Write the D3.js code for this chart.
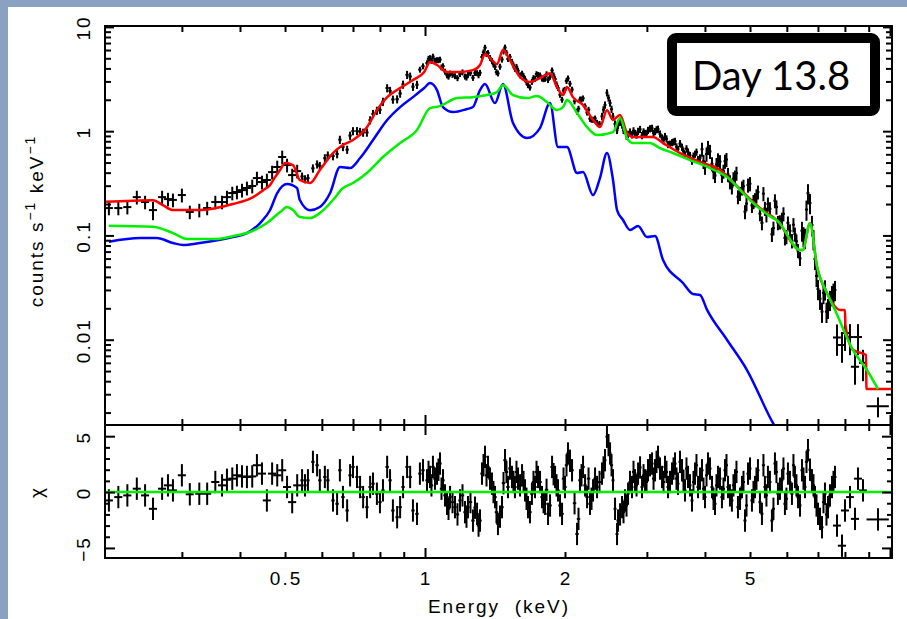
<!DOCTYPE html>
<html>
<head>
<meta charset="utf-8">
<script src="https://cdn.jsdelivr.net/npm/d3@7"></script>
<style>
  body { margin: 0; background: #fff; }
  svg { display: block; }
</style>
</head>
<body>
<script>
// ---- spectrum data (keV, counts s^-1 keV^-1, chi) ----
const dataE = [
  0.209,0.219,0.229,0.240,0.250,0.260,0.272,0.280,0.287,0.300,0.312,0.327,0.340,0.354,0.366,0.375,0.385,0.394,0.404,0.414,0.425,0.435,0.446,0.457,0.469,0.481,0.493,0.505,0.518,0.531,
  0.544,0.552,0.560,0.574,0.586,0.594,0.609,0.618,0.634,0.647,0.656,0.666,0.680,0.690,0.700,0.714,0.725,0.736,0.750,0.762,0.773,0.788,0.800,0.812,0.829,0.841,0.853,0.871,0.884,0.897,0.915,0.929,0.942,0.961,0.975,0.990,
  1.010,1.025,1.040,1.061,1.077,1.093,1.115,1.132,1.160,1.189,1.219,1.237,1.268,1.294,1.313,1.326,1.346,1.366,1.393,1.414,1.435,1.464,1.486,1.508,1.538,1.561,1.585,1.617,1.641,1.665,1.698,1.724,1.750,1.785,1.812,1.839,1.876,1.904,1.932,1.971,2.000,2.030,2.071,2.123,2.154,2.187,2.231,2.264,2.298,2.344,
  2.402,2.438,2.462,2.500,2.537,2.588,2.601,2.653,2.692,2.733,2.787,2.829,2.872,2.929,2.973,3.017,3.078,3.124,3.170,3.234,3.282,3.331,3.398,3.449,3.500,3.570,3.623,3.678,3.751,3.807,3.864,
  3.942,4.001,4.061,4.142,4.204,4.266,4.351,4.417,4.483,4.571,4.641,4.710,4.805,4.877,4.950,5.048,5.124,5.200,5.304,5.383,5.464,5.573,5.657,5.741,5.856,5.944,6.033,6.154,6.245,6.340,
  6.467,6.564,6.662,6.795,6.898,7.001,7.141,7.247,7.356,7.503,7.615,
  7.691,7.884,8.003,8.204,8.409,8.535,8.748,9.423
];
// half bin widths (keV)
const dataW = [
  0.0042,0.0044,0.0046,0.0048,0.0050,0.0052,0.0054,0.0056,0.0057,0.0060,0.0062,0.0065,0.0068,0.0071,0.0073,0.0075,0.0077,0.0079,0.0081,0.0083,0.0085,0.0087,0.0089,0.0091,0.0094,0.0096,0.0099,0.0101,0.0104,0.0106,
  0.0046,0.0046,0.0047,0.0048,0.0049,0.0050,0.0051,0.0052,0.0053,0.0054,0.0055,0.0056,0.0057,0.0058,0.0059,0.0060,0.0061,0.0062,0.0063,0.0064,0.0065,0.0066,0.0067,0.0068,0.0070,0.0071,0.0072,0.0073,0.0074,0.0075,0.0077,0.0078,0.0079,0.0081,0.0082,0.0083,
  0.0085,0.0086,0.0087,0.0089,0.0090,0.0092,0.0094,0.0095,0.0097,0.0100,0.0102,0.0104,0.0107,0.0109,0.0110,0.0111,0.0113,0.0115,0.0117,0.0119,0.0121,0.0123,0.0125,0.0127,0.0129,0.0131,0.0133,0.0136,0.0138,0.0140,0.0143,0.0145,0.0147,0.0150,0.0152,0.0154,0.0158,0.0160,0.0162,0.0166,0.0168,0.0171,0.0174,0.0178,0.0181,0.0184,0.0187,0.0190,0.0193,0.0197,
  0.018,0.018,0.018,0.019,0.019,0.019,0.020,0.020,0.020,0.020,0.021,0.021,0.022,0.022,0.022,0.023,0.023,0.023,0.024,0.024,0.025,0.025,0.025,0.026,0.026,0.027,0.027,0.028,0.028,0.029,0.029,
  0.030,0.030,0.030,0.031,0.032,0.032,0.033,0.033,0.034,0.034,0.035,0.035,0.036,0.037,0.037,0.038,0.038,0.039,0.040,0.040,0.041,0.042,0.042,0.043,0.044,0.045,0.045,0.046,0.047,0.048,
  0.049,0.049,0.050,0.051,0.052,0.053,0.054,0.054,0.055,0.056,0.057,
  0.15,0.16,0.16,0.16,0.17,0.17,0.17,0.52
];
const dataRate = [
  0.183,0.183,0.187,0.233,0.209,0.175,0.233,0.223,0.219,0.244,0.168,0.175,0.183,0.209,0.209,0.233,0.255,0.261,0.272,0.285,0.298,0.355,0.325,0.340,0.405,0.453,0.565,0.473,0.379,0.414,
  0.368,0.347,0.354,0.440,0.481,0.465,0.551,0.586,0.577,0.603,0.829,0.707,0.665,0.907,1.002,1.004,0.987,0.970,0.972,1.275,1.465,1.573,1.604,1.918,2.589,2.44,2.013,2.027,2.299,2.803,3.473,3.345,2.671,2.791,3.896,4.193,
  4.487,5.022,5.192,4.806,4.859,4.202,3.436,3.575,3.376,3.535,3.345,3.473,3.251,3.606,3.631,5.145,6.318,5.62,4.721,4.137,3.583,4.869,6.346,4.934,4.628,3.966,3.802,3.567,3.159,2.767,2.976,3.18,3.466,3.201,3.18,3.097,3.828,3.159,2.595,2.005,2.494,3.208,2.505,1.542,2.013,2.063,1.511,1.315,1.289,1.204,
  1.387,1.783,2.334,1.864,1.387,1.020,1.137,1.149,1.013,0.934,0.924,0.953,0.998,0.909,0.953,1.020,1.068,0.993,1.047,0.864,0.891,0.747,0.777,0.800,0.671,0.703,0.593,0.632,0.517,0.603,0.534,
  0.671,0.451,0.698,0.487,0.376,0.531,0.378,0.515,0.384,0.292,0.363,0.235,0.285,0.169,0.304,0.194,0.220,0.261,0.132,0.182,0.200,0.1025,0.215,0.133,0.143,0.0948,0.132,0.089,0.103,0.0716,
  0.111,0.0948,0.254,0.126,0.0595,0.0306,0.0186,0.0304,0.0202,0.0268,0.030,
  0.0105,0.0089,0.0116,0.0106,0.0055,0.0106,0.0060,0.0023
];
const dataErr = [
  0.027,0.027,0.028,0.035,0.031,0.035,0.035,0.033,0.033,0.037,0.025,0.026,0.027,0.031,0.031,0.035,0.038,0.039,0.041,0.043,0.045,0.053,0.049,0.051,0.061,0.068,0.085,0.071,0.057,0.062,
  0.033,0.031,0.032,0.040,0.043,0.042,0.050,0.053,0.052,0.054,0.075,0.064,0.060,0.082,0.090,0.090,0.089,0.087,0.087,0.115,0.132,0.142,0.144,0.173,0.233,0.22,0.181,0.182,0.207,0.252,0.313,0.301,0.240,0.251,0.257,0.277,
  0.296,0.331,0.343,0.317,0.321,0.277,0.227,0.236,0.223,0.233,0.221,0.229,0.215,0.238,0.240,0.340,0.417,0.371,0.312,0.273,0.236,0.321,0.419,0.326,0.305,0.262,0.251,0.235,0.208,0.183,0.196,0.210,0.229,0.211,0.210,0.204,0.253,0.208,0.171,0.132,0.165,0.212,0.165,0.102,0.133,0.136,0.100,0.087,0.085,0.079,
  0.111,0.143,0.187,0.149,0.111,0.082,0.091,0.092,0.081,0.075,0.074,0.076,0.080,0.073,0.076,0.082,0.085,0.079,0.084,0.069,0.071,0.060,0.062,0.064,0.054,0.056,0.047,0.051,0.041,0.048,0.043,
  0.104,0.070,0.108,0.075,0.058,0.082,0.059,0.080,0.060,0.045,0.056,0.036,0.044,0.026,0.047,0.030,0.034,0.040,0.020,0.028,0.031,0.016,0.033,0.021,0.022,0.0147,0.020,0.014,0.016,0.011,
  0.024,0.021,0.056,0.028,0.013,0.0067,0.0041,0.0067,0.0044,0.0059,0.0066,
  0.0035,0.0029,0.0038,0.0035,0.0018,0.0035,0.0020,0.0005
];
const dataChi = [
  -0.75,-0.45,-0.3,0.3,-0.3,-1.5,0.3,0.6,0.15,1.5,-0.2,-0.15,-0.15,0.9,0.6,1.1,1.2,1.5,1.4,1.35,1.4,2.4,1.65,-0.75,1.65,1.5,1.95,0.45,-0.9,0.6,
  1.05,0.6,1.05,2.7,2.4,1.05,1.35,1.05,-0.75,-1.05,1.95,-0.45,-1.65,1.5,2.25,1.35,0.45,-0.45,-1.35,0.45,0.75,-0.15,-0.9,0.15,2.25,1.05,-1.65,-2.25,-1.35,0.45,2.25,1.35,-1.65,-1.95,1.65,1.95,
  1.05,1.35,2.25,1.65,2.55,1.05,-1.05,-0.45,-1.35,-0.75,-1.8,-1.35,-2.55,-1.95,-2.55,1.65,3.15,2.25,0.75,-0.45,-2.85,-1.35,2.85,0.45,1.35,0.45,1.2,1.5,0.15,-1.35,-0.15,0.45,1.35,-0.45,-1.05,-1.95,2.25,1.35,0.15,-1.95,0.45,3.45,1.95,-3.75,1.05,2.25,-0.45,-1.05,0.15,0.45,
  1.65,2.85,4.95,3.45,1.05,-3.75,-2.55,-1.35,-0.75,-0.15,0.45,1.05,1.65,0.45,1.05,1.95,2.55,1.95,3.15,1.35,2.25,0.45,1.65,2.55,0.75,1.95,0.15,1.35,-0.75,1.65,0.45,
  1.95,-0.45,2.55,0.45,-1.05,1.35,-0.45,1.95,0.45,-0.75,1.05,-1.35,0.45,-2.55,1.65,-0.75,0.45,1.95,-1.95,0.45,1.35,-2.55,2.55,-0.15,1.05,-1.05,1.65,-0.15,1.35,-0.45,
  1.95,0.45,3.75,1.05,-0.45,-1.95,-3.15,-0.15,-1.35,0.45,1.35,
  -3.0,-4.8,-1.65,-0.45,-2.4,1.2,0.15,-2.45
];

// extra narrow bins lying between the ones above (1 - 7.6 keV)
const fineE = [
  1.0175,1.0325,1.0505,1.069,1.085,1.104,1.1235,1.146,1.1745,1.204,1.228,1.2525,1.281,1.3035,1.336,1.356,1.3795,1.4035,1.4245,1.4495,1.475,1.497,1.523,1.5495,1.573,1.601,1.629,1.653,1.6815,1.711,1.737,1.7675,1.7985,1.8255,1.8575,1.89,1.918,1.9515,1.9855,2.015,2.0505,2.097,2.1385,2.1705,2.209,2.2475,2.281,2.321,2.373,
  2.42,2.481,2.5185,2.5625,2.627,2.6725,2.7125,2.76,2.808,2.8505,2.9005,2.951,2.995,3.0475,3.101,3.147,3.202,3.258,3.3065,3.3645,3.4235,3.4745,3.535,3.5965,3.6505,3.7145,3.779,3.8355,3.903,
  3.9715,4.031,4.1015,4.173,4.235,4.3085,4.384,4.45,4.527,4.606,4.6755,4.7575,4.841,4.9135,4.999,5.086,5.162,5.252,5.3435,5.4235,5.5185,5.615,5.699,5.7985,5.9,5.9885,6.0935,6.1995,6.2925,6.4035,
  6.5155,6.613,6.7285,6.8465,6.9495,7.071,7.194,7.3015,7.429,7.559
];
const fineW = [
  0.0086,0.0087,0.0088,0.0090,0.0091,0.0093,0.0094,0.0096,0.0099,0.0101,0.0103,0.0105,0.0108,0.0110,0.0112,0.0114,0.0116,0.0118,0.0120,0.0122,0.0124,0.0126,0.0128,0.0130,0.0132,0.0134,0.0137,0.0139,0.0141,0.0144,0.0146,0.0148,0.0151,0.0153,0.0156,0.0159,0.0161,0.0164,0.0167,0.0169,0.0172,0.0176,0.0180,0.0182,0.0186,0.0189,0.0192,0.0195,0.0199,
  0.018,0.019,0.019,0.019,0.020,0.020,0.020,0.021,0.021,0.021,0.022,0.022,0.022,0.023,0.023,0.024,0.024,0.024,0.025,0.025,0.026,0.026,0.027,0.027,0.027,0.028,0.028,0.029,0.029,
  0.030,0.030,0.031,0.031,0.032,0.032,0.033,0.033,0.034,0.035,0.035,0.036,0.036,0.037,0.037,0.038,0.039,0.039,0.040,0.041,0.041,0.042,0.043,0.043,0.044,0.045,0.046,0.046,0.047,0.048,
  0.049,0.050,0.050,0.051,0.052,0.053,0.054,0.055,0.056,0.057
];
const fineRate = [
  4.945,4.721,4.753,4.801,4.095,3.728,3.338,3.473,3.229,3.670,3.272,3.606,3.622,3.443,5.707,5.509,5.053,4.379,3.686,4.154,5.822,5.657,5.167,4.283,4.145,3.436,3.372,2.953,2.624,3.236,3.528,3.428,3.162,3.516,3.331,3.436,2.817,2.239,2.456,3.036,2.854,1.935,1.643,2.018,1.733,1.606,1.290,1.324,1.175,
  1.607,2.086,1.625,1.174,1.222,1.018,0.899,0.984,1.009,0.920,1.041,0.986,0.941,1.057,0.957,1.033,0.941,0.819,0.844,0.752,0.789,0.709,0.760,0.643,0.680,0.585,0.578,0.630,0.555,
  0.513,0.602,0.640,0.409,0.479,0.510,0.413,0.535,0.327,0.350,0.395,0.253,0.296,0.2018,0.3137,0.2113,0.2397,0.1618,0.2517,0.1582,0.1803,0.1177,0.1872,0.135,0.1611,0.0974,0.1109,0.1266,0.088,0.0602,
  0.0985,0.1771,0.2045,0.0923,0.0409,0.0247,0.0281,0.01856,0.0241,0.02835
];
const fineErr = [
  0.326,0.312,0.314,0.317,0.270,0.246,0.220,0.229,0.213,0.242,0.216,0.238,0.239,0.227,0.377,0.364,0.333,0.289,0.243,0.274,0.384,0.373,0.341,0.283,0.274,0.227,0.223,0.195,0.173,0.214,0.233,0.226,0.209,0.232,0.220,0.227,0.186,0.148,0.162,0.200,0.188,0.128,0.108,0.133,0.114,0.106,0.085,0.087,0.078,
  0.129,0.167,0.130,0.094,0.098,0.081,0.072,0.079,0.081,0.074,0.083,0.079,0.075,0.085,0.077,0.083,0.075,0.066,0.068,0.060,0.063,0.057,0.061,0.051,0.054,0.047,0.046,0.050,0.044,
  0.080,0.093,0.099,0.063,0.074,0.079,0.064,0.083,0.051,0.054,0.061,0.039,0.046,0.031,0.049,0.033,0.037,0.025,0.039,0.025,0.028,0.018,0.029,0.021,0.025,0.015,0.017,0.020,0.014,0.0093,
  0.0217,0.039,0.045,0.0203,0.009,0.0054,0.0062,0.0041,0.0053,0.0062
];
const fineChi = [
  1.8,0.6,1.2,2.0,0.3,-0.3,-1.5,-0.9,-2.0,-0.3,-2.2,-0.9,-1.4,-3.0,2.4,1.5,1.2,0.0,-1.8,-2.2,0.8,1.8,2.1,0.9,1.8,0.6,0.9,-0.6,-1.8,0.9,1.8,0.9,-0.9,0.2,-1.2,1.6,0.6,-1.2,1.2,2.4,2.8,-1.0,-2.4,1.5,0.6,1.2,-0.6,1.2,0.9,
  2.2,4.2,2.4,-1.5,-2.0,-1.8,-1.2,0.9,1.8,0.6,2.2,1.5,0.9,2.4,1.2,2.7,2.1,0.9,1.8,0.9,2.1,1.2,2.7,1.0,2.1,0.6,0.9,2.4,1.2,
  0.3,1.5,2.1,-0.6,0.6,1.2,0.3,2.4,-0.3,0.6,1.8,-0.6,0.9,-1.2,2.1,0.0,1.2,-0.9,2.4,-0.3,0.9,-1.5,1.8,0.3,2.1,-0.6,0.9,2.4,0.6,-1.2,
  1.2,2.7,2.0,0.6,-1.2,-2.4,-0.9,-2.0,-0.3,0.9
];

// ---- model curves ----
const redE = [0.205,0.26,0.273,0.287,0.328,0.386,0.427,0.449,0.464,0.476,0.488,0.50,0.52,0.538,0.566,0.594,0.634,0.666,0.70,0.75,0.788,0.829,0.884,0.942,0.996,1.025,1.061,1.115,1.172,1.268,1.313,1.346,1.393,1.428,1.471,1.523,1.601,1.682,1.767,1.857,1.922,1.981,2.02,2.08,2.187,2.298,2.378,2.462,2.537,2.627,2.719,2.802,3.093,3.25,3.535,3.903,4.31,4.83,5.33,5.71,6.41,6.49,6.73,6.97,7.32,7.81,8.0,8.02,8.32,8.88,8.9,10.1];
const redRate = [0.21,0.218,0.195,0.175,0.175,0.20,0.233,0.272,0.304,0.363,0.424,0.494,0.473,0.34,0.318,0.424,0.617,0.736,0.822,1.09,1.59,2.12,2.59,3.09,3.69,4.6,4.31,3.69,3.69,3.85,4.31,5.48,4.8,4.39,5.99,4.8,3.3,2.96,3.23,3.6,2.65,2.22,2.65,2.12,1.78,1.28,1.095,1.59,1.28,1.43,0.959,0.878,0.878,0.769,0.617,0.506,0.424,0.26,0.174,0.14,0.0724,0.0724,0.131,0.0498,0.028,0.0193,0.0193,0.0138,0.008,0.00713,0.00336,0.00336];

const blueE = [0.209,0.244,0.265,0.287,0.302,0.328,0.386,0.414,0.442,0.464,0.481,0.505,0.5305,0.538,0.566,0.594,0.625,0.6565,0.69,0.725,0.773,0.829,0.884,0.942,0.996,1.025,1.061,1.093,1.149,1.231,1.268,1.313,1.346,1.414,1.471,1.546,1.657,1.767,1.857,1.932,2.02,2.123,2.187,2.298,2.378,2.462,2.537,2.588,2.666,2.76,2.872,3.002,3.124,3.25,3.588,3.77,3.903,4.042,4.463,4.925,5.6,5.75];
const blueRate = [0.087,0.0944,0.0944,0.0846,0.0809,0.0846,0.0965,0.1054,0.1315,0.1744,0.255,0.311,0.2848,0.2185,0.1744,0.1872,0.255,0.4527,0.443,0.5523,0.822,1.278,1.702,2.12,2.59,2.893,2.478,1.702,1.524,1.629,1.702,2.478,2.83,1.859,2.83,1.196,0.859,1.071,1.859,0.704,0.704,0.3966,0.4053,0.244,0.355,0.617,0.34,0.1752,0.1405,0.1127,0.1231,0.0965,0.0987,0.0581,0.035,0.0274,0.0268,0.0193,0.00993,0.00512,0.00159,0.0013];

const greenE = [0.209,0.26,0.287,0.308,0.355,0.387,0.420,0.457,0.488,0.505,0.52,0.538,0.566,0.594,0.634,0.666,0.70,0.75,0.812,0.884,0.961,1.025,1.077,1.172,1.268,1.359,1.428,1.471,1.546,1.657,1.741,1.829,1.922,1.981,2.02,2.123,2.231,2.344,2.537,2.627,2.719,2.802,3.047,3.2,3.414,3.715,4.1,4.463,4.83,5.0,5.6,5.71,6.41,6.49,6.73,6.97,7.32,7.615,8.32,8.92,9.424];
const greenRate = [0.124,0.121,0.1054,0.0923,0.0923,0.0987,0.1078,0.1315,0.1676,0.1872,0.1752,0.150,0.1468,0.164,0.2185,0.2848,0.318,0.3966,0.5646,0.769,1.024,1.665,1.74,2.077,2.12,2.22,2.37,2.77,2.22,2.077,2.17,1.90,1.594,1.70,1.987,1.491,1.095,0.918,0.98,1.335,0.859,0.769,0.769,0.689,0.617,0.528,0.443,0.363,0.255,0.2185,0.1468,0.14,0.0724,0.0724,0.131,0.0498,0.028,0.0193,0.008,0.00512,0.00336];

// ---- ticks ----
const xMajor = [1, 10];
const xMinor = [0.3,0.4,0.5,0.6,0.7,0.8,0.9,2,3,4,5,6,7,8,9];
const xLabels = [0.5, 1, 2, 5];
const yMajor = [0.01, 0.1, 1, 10];
const yMinor = [0.002,0.003,0.004,0.005,0.006,0.007,0.008,0.009,0.02,0.03,0.04,0.05,0.06,0.07,0.08,0.09,0.2,0.3,0.4,0.5,0.6,0.7,0.8,0.9,2,3,4,5,6,7,8,9];
const yLabels = ["0.01", "0.1", "1", "10"];
const chiMajor = [-5, 0, 5];
const chiMinor = [-4,-3,-2,-1,1,2,3,4];
const chiLabels = ["\u22125", "0", "5"];

// layout
const L = 105, R = 892, T = 26, M = 425, B = 558;
const font = "'Liberation Sans', Arial, sans-serif";
const GREEN = "#00f000";

const svg = d3.select("body").append("svg")
  .attr("width", 907)
  .attr("height", 619);

svg.append("rect").attr("width", 907).attr("height", 619).attr("fill", "#fff");
svg.append("rect").attr("width", 8).attr("height", 619).attr("fill", "#8aa1c1");
svg.append("rect").attr("width", 907).attr("height", 7).attr("fill", "#8aa1c1");

const x = d3.scaleLog().domain([0.205, 10.1]).range([L, R]);
const y = d3.scaleLog().domain([0.00152, 10.2]).range([M, T]);
const yChi = d3.scaleLinear().domain([-5.9, 6.0]).range([B, M]);

const defs = svg.append("defs");
defs.append("clipPath").attr("id", "clipTop")
  .append("rect").attr("x", L).attr("y", T).attr("width", R - L).attr("height", M - T);
defs.append("clipPath").attr("id", "clipBot")
  .append("rect").attr("x", L).attr("y", M).attr("width", R - L).attr("height", B - M);

const pts = dataE.map((e, i) => ({ e, w: dataW[i], r: dataRate[i], s: dataErr[i], chi: dataChi[i] }))
  .concat(fineE.map((e, i) => ({ e, w: fineW[i], r: fineRate[i], s: fineErr[i], chi: fineChi[i] })));

// upper panel: data crosses
const upper = svg.append("g").attr("clip-path", "url(#clipTop)");
const upperPts = upper.append("g").attr("stroke", "#000").attr("stroke-width", 2)
  .selectAll("g").data(pts).join("g");
upperPts.append("line")
  .attr("x1", d => x(d.e - d.w)).attr("x2", d => x(d.e + d.w))
  .attr("y1", d => y(d.r)).attr("y2", d => y(d.r));
upperPts.append("line")
  .attr("x1", d => x(d.e)).attr("x2", d => x(d.e))
  .attr("y1", d => y(Math.max(d.r - d.s, 1e-4))).attr("y2", d => y(d.r + d.s));

// model lines
const line = d3.line().curve(d3.curveMonotoneX).x(d => x(d[0])).y(d => y(d[1]));
const addModel = (es, vs, color) =>
  upper.append("path")
    .datum(es.map((e, i) => [e, vs[i]]))
    .attr("d", line)
    .attr("fill", "none")
    .attr("stroke", color)
    .attr("stroke-width", 2.5)
    .attr("stroke-linejoin", "round");
addModel(redE, redRate, "#ff0000");
addModel(blueE, blueRate, "#0000ff");
addModel(greenE, greenRate, GREEN);

// lower panel: residuals
const lower = svg.append("g").attr("clip-path", "url(#clipBot)");
const lowerPts = lower.append("g").attr("stroke", "#000").attr("stroke-width", 2)
  .selectAll("g").data(pts).join("g");
lowerPts.append("line")
  .attr("x1", d => x(d.e - d.w)).attr("x2", d => x(d.e + d.w))
  .attr("y1", d => yChi(d.chi)).attr("y2", d => yChi(d.chi));
lowerPts.append("line")
  .attr("x1", d => x(d.e)).attr("x2", d => x(d.e))
  .attr("y1", d => yChi(d.chi - 1)).attr("y2", d => yChi(d.chi + 1));
lower.append("line")
  .attr("x1", L).attr("x2", R)
  .attr("y1", yChi(0)).attr("y2", yChi(0))
  .attr("stroke", GREEN).attr("stroke-width", 2.5);

// tick marks on all four sides of both panels
function ticks(axisFn, scale, vals, size, tx, ty) {
  svg.append("g")
    .attr("transform", `translate(${tx},${ty})`)
    .call(axisFn(scale).tickValues(vals).tickSize(-size).tickFormat(""))
    .call(g => g.select(".domain").remove())
    .selectAll("line").attr("stroke", "#000").attr("stroke-width", 2);
}
ticks(d3.axisTop, x, xMajor, 10, 0, T);
ticks(d3.axisTop, x, xMinor, 6, 0, T);
ticks(d3.axisBottom, x, xMajor, 10, 0, M);
ticks(d3.axisBottom, x, xMinor, 6, 0, M);
ticks(d3.axisTop, x, xMajor, 10, 0, M);
ticks(d3.axisTop, x, xMinor, 6, 0, M);
ticks(d3.axisBottom, x, xMajor, 10, 0, B);
ticks(d3.axisBottom, x, xMinor, 6, 0, B);

ticks(d3.axisLeft, y, yMajor, 9, L, 0);
ticks(d3.axisLeft, y, yMinor, 6, L, 0);
ticks(d3.axisRight, y, yMajor, 9, R, 0);
ticks(d3.axisRight, y, yMinor, 6, R, 0);
ticks(d3.axisLeft, yChi, chiMajor, 10, L, 0);
ticks(d3.axisLeft, yChi, chiMinor, 5, L, 0);
ticks(d3.axisRight, yChi, chiMajor, 10, R, 0);
ticks(d3.axisRight, yChi, chiMinor, 5, R, 0);

// frames
svg.append("rect").attr("x", L).attr("y", T).attr("width", R - L).attr("height", M - T)
  .attr("fill", "none").attr("stroke", "#000").attr("stroke-width", 2);
svg.append("rect").attr("x", L).attr("y", M).attr("width", R - L).attr("height", B - M)
  .attr("fill", "none").attr("stroke", "#000").attr("stroke-width", 2);

// tick labels
const label = (tx, ty, rot, txt) =>
  svg.append("text")
    .attr("transform", `translate(${tx},${ty})` + (rot ? " rotate(-90)" : ""))
    .attr("text-anchor", "middle")
    .style("font-family", font)
    .style("font-size", "19px")
    .style("letter-spacing", "2px")
    .attr("fill", "#000")
    .text(txt);

xLabels.forEach(v => label(x(v) + 1, 585, false, String(v)));
yMajor.forEach((v, i) => label(90, y(v) + 1, true, yLabels[i]));
chiMajor.forEach((v, i) => label(90, yChi(v) + 1, true, chiLabels[i]));

// axis titles
svg.append("text")
  .attr("x", 499).attr("y", 613)
  .attr("text-anchor", "middle")
  .attr("xml:space", "preserve")
  .style("white-space", "pre")
  .style("font-family", font)
  .style("font-size", "19px")
  .style("letter-spacing", "2px")
  .text("Energy  (keV)");

const yt = svg.append("text")
  .attr("transform", "translate(43,221) rotate(-90)")
  .attr("text-anchor", "middle")
  .style("font-family", font)
  .style("font-size", "19px")
  .style("letter-spacing", "2px");
yt.append("tspan").text("counts s");
yt.append("tspan").attr("dy", -8).style("font-size", "14px").text("\u22121");
yt.append("tspan").attr("dy", 8).text(" keV");
yt.append("tspan").attr("dy", -8).style("font-size", "14px").text("\u22121");

label(43, 492, true, "\u03c7");

// "Day 13.8" box
svg.append("rect")
  .attr("x", 672).attr("y", 38).attr("width", 203).attr("height", 73)
  .attr("rx", 4)
  .attr("fill", "#fff").attr("stroke", "#000").attr("stroke-width", 10);
svg.append("text")
  .attr("x", 771).attr("y", 90)
  .attr("text-anchor", "middle")
  .style("font-family", "Lato, 'Open Sans', sans-serif")
  .style("font-size", "40px")
  .text("Day 13.8");
</script>
</body>
</html>
